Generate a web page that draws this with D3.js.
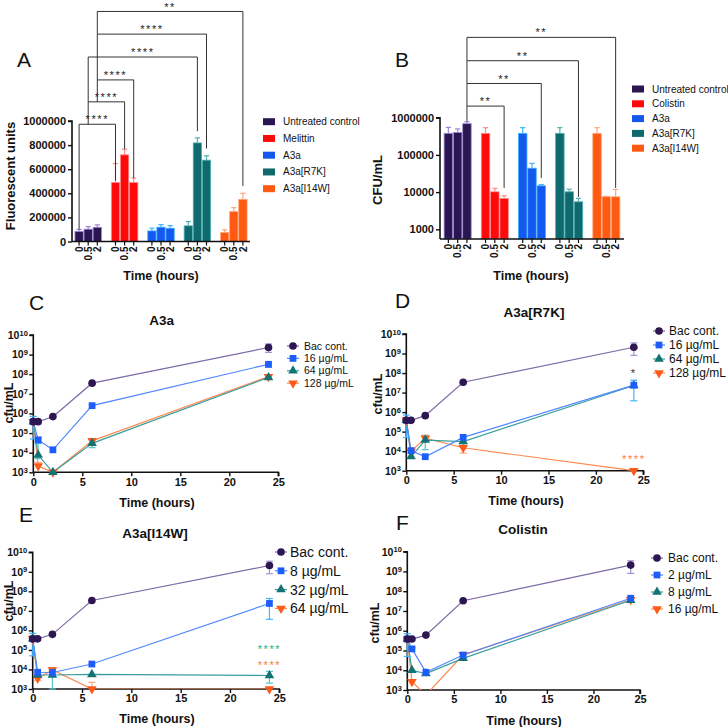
<!DOCTYPE html>
<html><head><meta charset="utf-8">
<script src="https://cdn.jsdelivr.net/npm/d3@7"></script>
<style>
body{margin:0;background:#fff}
svg{display:block}
text{font-family:"Liberation Sans",Arial,sans-serif;fill:#111}
</style>
</head><body>
<svg id="c" width="728" height="727"></svg>
<script>
// ---------------- DATA ----------------
const barTimes = ["0", "0.5", "2"];
const groupsA = ["Untreated control", "Melittin", "A3a", "A3a[R7K]", "A3a[I14W]"];
const groupsB = ["Untreated control", "Colistin", "A3a", "A3a[R7K]", "A3a[I14W]"];
const fluorMeans = [[84000, 102000, 118000], [490000, 719000, 490000], [88000, 119000, 110000], [130000, 818000, 675000], [74000, 248000, 350000]];
const fluorErr   = [[100000, 124000, 138000], [647000, 766000, 526000], [110000, 140000, 132000], [165000, 860000, 711000], [97000, 281000, 400000]];
const cfuMeans = [[380000, 400000, 690000], [380000, 10200, 6800], [380000, 44000, 14800], [380000, 10200, 5500], [380000, 7500, 7500]];
const cfuErr   = [[550000, 500000, 780000], [540000, 12600, 8000], [540000, 59000, 16000], [540000, 12000, 6800], [540000, 7700, 11800]];
const ticksA = [0, 200000, 400000, 600000, 800000, 1000000];
const ticksB = [1000, 10000, 100000, 1000000];

// significance brackets: [group1, time1, group2, time2]
const bracketPairsA = [[0, "0", 1, "0"], [0, "0.5", 1, "0.5"], [0, "2", 1, "2"], [0, "0.5", 3, "0.5"], [0, "2", 3, "2"], [0, "2", 4, "2"]];
const bracketLevelsA = [973000, 1159000, 1341000, 1531000, 1721000, 1909000];
const bracketLeftEndA = [100000, 973000, 1159000, 1159000, 1341000, 1721000];
const bracketRightEndA = [505000, 765000, 526000, 915000, 772000, 460000];
const bracketLabelsA = ["****", "****", "****", "****", "****", "**"];

const bracketPairsB = [[0, "2", 1, "2"], [0, "2", 2, "2"], [0, "2", 3, "2"], [0, "2", 4, "2"]];
const bracketLevelsB = [2.05e6, 8.3e6, 3.4e7, 1.44e8];
const bracketLeftEndB = [8.0e5, 2.05e6, 8.3e6, 3.4e7];
const bracketRightEndB = [1.3e4, 2.4e4, 7.4e3, 1.3e4];
const bracketLabelsB = ["**", "**", "**", "**"];

const times = [0, 0.5, 2, 6, 24];
const xTicksLine = [0, 5, 10, 15, 20, 25];
const yTicksLine = [1e3, 1e4, 1e5, 1e6, 1e7, 1e8, 1e9, 1e10];

// Panel C (A3a)
const namesC = ["Bac cont.", "16 µg/mL", "64 µg/mL", "128 µg/mL"];
const bacC = [3.8e5, 3.8e5, 6.9e5, 3.5e7, 2.3e9];
const c16 = [3.8e5, 4.5e4, 1.4e4, 2.5e6, 3.2e8];
const c64 = [3.8e5, 7.6e3, 1e3, 3e4, 6.8e7];
const c128 = [3.8e5, 2.1e3, 1e3, 4e4, 7.5e7];
const bacCHi = [null, null, null, null, 3.5e9], bacCLo = [null, null, null, null, 1.3e9];
const c16Hi = [7.1e5, 6e4, null, null, 3.8e8], c16Lo = [5e4, 3e4, null, null, 2.3e8];
const c64Hi = [null, 3.5e4, null, 4.5e4, null], c64Lo = [null, 5e3, null, 1.8e4, null];
const c128Hi = [null, 3.2e3, null, 5e4, null], c128Lo = [null, null, null, null, null];

// Panel D (A3a[R7K])
const namesD = ["Bac cont.", "16 µg/mL", "64 µg/mL", "128 µg/mL"];
const bacD = [3.8e5, 3.8e5, 6.6e5, 3.4e7, 2.1e9];
const d16 = [3.8e5, 1.07e4, 5.2e3, 5.1e4, 2.4e7];
const d64 = [3.8e5, 5.3e3, 3.7e4, 3.1e4, 2.3e7];
const d128 = [3.8e5, 1.0e4, 4.6e4, 1.5e4, 1e3];
const bacDHi = [null, null, null, null, 3.5e9], bacDLo = [null, null, null, null, 8e8];
const d16Hi = [7.1e5, null, null, null, 4.3e7], d16Lo = [5e4, null, null, null, 3.8e6];
const d64Hi = [null, null, 6.5e4, null, null], d64Lo = [null, null, 1.2e4, 1.8e4, null];
const d128Hi = [null, null, 6e4, 2e4, null], d128Lo = [null, null, null, 8e3, null];

// Panel E (A3a[I14W])
const namesE = ["Bac cont.", "8 µg/mL", "32 µg/mL", "64 µg/mL"];
const bacE = [3.7e5, 3.7e5, 6.3e5, 3.4e7, 2.1e9];
const e8 = [3.7e5, 7.2e3, 7.0e3, 1.9e4, 2.4e7];
const e32 = [3.7e5, 5.2e3, 5.2e3, 5.6e3, 4.9e3];
const e64 = [3.7e5, 3.5e3, 9.5e3, 1e3, 1e3];
const bacEHi = [null, null, null, null, 3.5e9], bacELo = [null, null, null, null, 8e8];
const e8Hi = [7.1e5, null, 1.2e4, null, 4.3e7], e8Lo = [5e4, null, null, null, 3.7e6];
const e32Hi = [null, null, 1.2e4, null, 8e3], e32Lo = [null, null, 1e3, null, 2e3];
const e64Hi = [null, null, null, 2.2e3, null], e64Lo = [null, 2.8e3, null, null, null];

// Panel F (Colistin)
const namesF = ["Bac cont.", "2 µg/mL", "8 µg/mL", "16 µg/mL"];
const bacF = [3.8e5, 3.8e5, 6.0e5, 3.3e7, 2.1e9];
const f2 = [3.8e5, 1.2e5, 7.9e3, 5.9e4, 4.4e7];
const f8 = [3.8e5, 1.0e4, 6.8e3, 4.0e4, 3.5e7];
const f16 = [3.8e5, 2.6e3, 5.6e2, 6.0e4, 3.7e7];
const bacFHi = [null, null, null, null, 3.5e9], bacFLo = [null, null, null, null, 8e8];
const f2Hi = [7.1e5, 1.4e5, null, null, null], f2Lo = [5e4, null, null, null, null];
const f8Hi = [null, null, null, null, null], f8Lo = [null, null, null, null, null];
const f16Hi = [null, null, null, 7e4, null], f16Lo = [null, null, null, null, null];

// ---------------- STYLE ----------------
const barFill = ["#2a1650", "#ff0a0a", "#1558f0", "#0f6a6e", "#ff5a12"];
const barEdge = ["#9d86d8", "#ff8c8c", "#3cb4ff", "#4fb0b0", "#ffa77a"];
const mkCol = ["#2d1651", "#1e5dfa", "#137373", "#ff5a1a"];
const lnCol = ["#7d6aa6", "#4f87ff", "#3a9e9e", "#ff8a50"];
const erCol = ["#a592d6", "#43b4ff", "#55c4c4", "#ffa57a"];
const mkType = [d3.symbolCircle, d3.symbolSquare, d3.symbolTriangle, d3.symbolTriangle];
const mkRot = [0, 0, 0, 180];
const mkSize = [46, 46, 40, 40];

const svg = d3.select("#c");
const F = '"Liberation Sans",Arial,sans-serif';

function panelLetter(txt, x, y) {
  svg.append("text").attr("x", x).attr("y", y).attr("font-family", '"Open Sans",sans-serif')
    .attr("font-size", 21).text(txt);
}

function starText(g, x, yc, label, size, color) {
  // asterisk glyph centre sits ~0.58em above baseline
  g.append("text").attr("x", x).attr("y", yc + 0.58 * size).attr("text-anchor", "middle")
    .attr("font-size", size).attr("letter-spacing", 1.6).style("fill", color || "#222").text(label);
}

// ---------------- BAR PANELS ----------------
function barPanel(cfg) {
  const g = svg.append("g");
  const x0 = d3.scaleBand().domain(cfg.groups).range(cfg.xRange).paddingInner(0.25).paddingOuter(cfg.outer);
  const x1 = d3.scaleBand().domain(barTimes).range([0, x0.bandwidth()]);
  const y = cfg.y;
  const yBase = cfg.yBase;
  const cx = (gi, t) => x0(cfg.groups[gi]) + x1(t) + x1.bandwidth() / 2;

  cfg.groups.forEach((grp, i) => {
    barTimes.forEach((t, j) => {
      const v = cfg.means[i][j], e = cfg.errs[i][j];
      const xc = cx(i, t);
      g.append("line").attr("x1", xc).attr("x2", xc).attr("y1", y(v)).attr("y2", y(e))
        .attr("stroke", barEdge[i]).attr("stroke-width", 1.2);
      g.append("line").attr("x1", xc - 2.6).attr("x2", xc + 2.6).attr("y1", y(e)).attr("y2", y(e))
        .attr("stroke", barEdge[i]).attr("stroke-width", 1.2);
      g.append("rect").attr("x", x0(grp) + x1(t) + 0.4).attr("y", y(v))
        .attr("width", x1.bandwidth() - 0.8).attr("height", yBase - y(v))
        .attr("fill", barFill[i]).attr("stroke", barEdge[i]).attr("stroke-width", 0.8);
      // x tick + rotated label
      g.append("line").attr("x1", xc).attr("x2", xc).attr("y1", yBase).attr("y2", yBase + 4)
        .attr("stroke", "#111").attr("stroke-width", 1.2);
      g.append("text").attr("transform", `translate(${xc + 3.6},${yBase + 5}) rotate(-90)`)
        .attr("text-anchor", "end").attr("font-size", 10).attr("font-weight", "bold").text(t);
    });
  });

  // y axis
  const ax = g.append("g").attr("transform", `translate(${cfg.xRange[0]},0)`)
    .call(d3.axisLeft(y).tickValues(cfg.ticks).tickFormat(d3.format("d")).tickSize(4).tickPadding(2));
  ax.select(".domain").attr("stroke", "#111").attr("stroke-width", 1.6).attr("d", `M-4,${y(cfg.ticks[cfg.ticks.length - 1])}H0V${yBase}`);
  ax.selectAll(".tick line").attr("stroke", "#111").attr("stroke-width", 1.4);
  ax.selectAll(".tick text").attr("font-size", 11).attr("font-weight", "bold").attr("font-family", F).style("fill", "#111");
  // x axis line
  g.append("line").attr("x1", cfg.xRange[0]).attr("x2", cfg.xRange[1]).attr("y1", yBase).attr("y2", yBase)
    .attr("stroke", "#111").attr("stroke-width", 1.6);

  // brackets
  cfg.pairs.forEach((p, k) => {
    const xa = cx(p[0], p[1]), xb = cx(p[2], p[3]);
    const yl = y(cfg.levels[k]);
    g.append("path").attr("d", `M${xa},${y(cfg.leftEnd[k])}V${yl}H${xb}V${y(cfg.rightEnd[k])}`)
      .attr("fill", "none").attr("stroke", "#333").attr("stroke-width", 1);
    starText(g, (xa + xb) / 2, yl - 7.3, cfg.labels[k], 11);
  });

  // axis titles
  g.append("text").attr("x", cfg.xTitle[0]).attr("y", cfg.xTitle[1]).attr("text-anchor", "middle")
    .attr("font-size", 12.5).attr("font-weight", "bold").text("Time (hours)");
  g.append("text").attr("transform", `translate(${cfg.yTitle[0]},${cfg.yTitle[1]}) rotate(-90)`)
    .attr("text-anchor", "middle").attr("font-size", 13).attr("font-weight", "bold").text(cfg.yLabel);

  // legend
  cfg.groups.forEach((grp, i) => {
    const yy = cfg.legY + i * cfg.legStep;
    g.append("rect").attr("x", cfg.legX).attr("y", yy - 3.5).attr("width", 12).attr("height", 7).attr("fill", barFill[i]);
    g.append("text").attr("x", cfg.legX + 20).attr("y", yy + 3.5).attr("font-size", 10).text(grp);
  });
}

barPanel({
  groups: groupsA, means: fluorMeans, errs: fluorErr, ticks: ticksA,
  xRange: [72, 250], outer: 0.07,
  y: d3.scaleLinear().domain([0, 1000000]).range([241.5, 121]), yBase: 241.5,
  pairs: bracketPairsA, levels: bracketLevelsA, leftEnd: bracketLeftEndA, rightEnd: bracketRightEndA, labels: bracketLabelsA,
  xTitle: [161, 279.5], yTitle: [15, 176], yLabel: "Fluorescent units",
  legX: 263, legY: 121.7, legStep: 16.75
});

barPanel({
  groups: groupsB, means: cfuMeans, errs: cfuErr, ticks: ticksB,
  xRange: [440, 624], outer: 0.1,
  y: d3.scaleLog().domain([550, 1e6]).range([239, 117.7]), yBase: 239,
  pairs: bracketPairsB, levels: bracketLevelsB, leftEnd: bracketLeftEndB, rightEnd: bracketRightEndB, labels: bracketLabelsB,
  xTitle: [531, 279.5], yTitle: [382, 180], yLabel: "CFU/mL",
  legX: 632, legY: 89, legStep: 14.8
});

panelLetter("A", 17, 67);
panelLetter("B", 395, 67);

// ---------------- LINE PANELS ----------------
let clipN = 0;
function linePanel(cfg) {
  const g = svg.append("g");
  const x = d3.scaleLinear().domain([0, 25]).range(cfg.xr);
  const y = d3.scaleLog().domain([1e3, 1e10]).range(cfg.yr);
  const id = "clip" + (clipN++);
  svg.append("clipPath").attr("id", id).append("rect")
    .attr("x", cfg.xr[0] - 6).attr("y", cfg.yr[1] - 30).attr("width", cfg.xr[1] - cfg.xr[0] + 12).attr("height", cfg.yr[0] - cfg.yr[1] + 30);

  // axes
  const ay = g.append("g").attr("transform", `translate(${cfg.xr[0]},0)`)
    .call(d3.axisLeft(y).tickValues(yTicksLine).tickSize(4).tickPadding(1.5).tickFormat(""));
  ay.select(".domain").attr("stroke", "#111").attr("stroke-width", 1.6).attr("d", `M-4,${cfg.yr[1]}H0V${cfg.yr[0]}`);
  ay.selectAll(".tick line").attr("stroke", "#111").attr("stroke-width", 1.4);
  ay.selectAll(".tick text").attr("font-size", 10.5).attr("font-weight", "bold").attr("font-family", F).style("fill", "#111")
    .each(function (d) {
      const t = d3.select(this);
      t.append("tspan").text("10");
      t.append("tspan").attr("dy", "-0.45em").attr("font-size", 7.5).text(Math.round(Math.log10(d)));
    });
  const axx = g.append("g").attr("transform", `translate(0,${cfg.yr[0]})`)
    .call(d3.axisBottom(x).tickValues(xTicksLine).tickSize(4).tickPadding(1.5));
  axx.select(".domain").attr("stroke", "#111").attr("stroke-width", 1.6).attr("d", `M${cfg.xr[0]},0H${cfg.xr[1]}V4`);
  axx.selectAll(".tick line").attr("stroke", "#111").attr("stroke-width", 1.4);
  axx.selectAll(".tick text").attr("font-size", 11).attr("font-weight", "bold").attr("font-family", F).style("fill", "#111");

  const line = d3.line().x((d, i) => x(times[i])).y(d => y(d));
  const gl = g.append("g").attr("clip-path", `url(#${id})`);
  // lines (drawn in reverse so Bac cont. ends up on top)
  for (let s = cfg.series.length - 1; s >= 0; s--) {
    gl.append("path").attr("d", line(cfg.series[s])).attr("fill", "none").attr("stroke", lnCol[s]).attr("stroke-width", 1.2);
  }
  // error bars
  cfg.series.forEach((vals, s) => {
    vals.forEach((v, i) => {
      const hi = cfg.hi[s][i], lo = cfg.lo[s][i];
      const xc = x(times[i]);
      if (hi != null) {
        g.append("line").attr("x1", xc).attr("x2", xc).attr("y1", y(v)).attr("y2", y(hi)).attr("stroke", erCol[s]).attr("stroke-width", 1.2);
        g.append("line").attr("x1", xc - 3.5).attr("x2", xc + 3.5).attr("y1", y(hi)).attr("y2", y(hi)).attr("stroke", erCol[s]).attr("stroke-width", 1.2);
      }
      if (lo != null) {
        g.append("line").attr("x1", xc).attr("x2", xc).attr("y1", y(v)).attr("y2", y(lo)).attr("stroke", erCol[s]).attr("stroke-width", 1.2);
        g.append("line").attr("x1", xc - 3.5).attr("x2", xc + 3.5).attr("y1", y(lo)).attr("y2", y(lo)).attr("stroke", erCol[s]).attr("stroke-width", 1.2);
      }
    });
  });
  // markers
  for (let s = cfg.series.length - 1; s >= 0; s--) {
    cfg.series[s].forEach((v, i) => {
      if (v < 1e3) return;
      g.append("path").attr("d", d3.symbol().type(mkType[s]).size(mkSize[s])())
        .attr("transform", `translate(${x(times[i])},${y(v)}) rotate(${mkRot[s]})`).attr("fill", mkCol[s]);
    });
  }
  // annotations
  (cfg.notes || []).forEach(n => starText(g, x(n[0]), y(n[1]), n[2], 11, n[3]));

  // titles
  g.append("text").attr("x", cfg.title[0]).attr("y", cfg.title[1]).attr("text-anchor", "middle")
    .attr("font-size", 13.5).attr("font-weight", "bold").text(cfg.titleText);
  g.append("text").attr("x", cfg.xTitle[0]).attr("y", cfg.xTitle[1]).attr("text-anchor", "middle")
    .attr("font-size", 12.5).attr("font-weight", "bold").text("Time (hours)");
  g.append("text").attr("transform", `translate(${cfg.yTitle[0]},${cfg.yTitle[1]}) rotate(-90)`)
    .attr("text-anchor", "middle").attr("font-size", 12.5).attr("font-weight", "bold").text("cfu/mL");

  // legend
  cfg.names.forEach((nm, s) => {
    const yy = cfg.leg[1] + s * cfg.leg[2];
    g.append("line").attr("x1", cfg.leg[0] - 6).attr("x2", cfg.leg[0] + 6).attr("y1", yy).attr("y2", yy).attr("stroke", lnCol[s]).attr("stroke-width", 1.2);
    g.append("path").attr("d", d3.symbol().type(mkType[s]).size(mkSize[s])())
      .attr("transform", `translate(${cfg.leg[0]},${yy}) rotate(${mkRot[s]})`).attr("fill", mkCol[s]);
    g.append("text").attr("x", cfg.leg[0] + cfg.leg[3]).attr("y", yy + cfg.leg[4] * 0.35).attr("font-size", cfg.leg[4]).text(nm);
  });
}

linePanel({
  xr: [33.3, 278.3], yr: [472.3, 335], names: namesC,
  series: [bacC, c16, c64, c128], hi: [bacCHi, c16Hi, c64Hi, c128Hi], lo: [bacCLo, c16Lo, c64Lo, c128Lo],
  title: [161.7, 324.5], titleText: "A3a", xTitle: [157, 507], yTitle: [12.5, 403],
  leg: [293, 346, 12.4, 11, 10.5]
});
linePanel({
  xr: [406.3, 643.3], yr: [470.7, 334], names: namesD,
  series: [bacD, d16, d64, d128], hi: [bacDHi, d16Hi, d64Hi, d128Hi], lo: [bacDLo, d16Lo, d64Lo, d128Lo],
  title: [534, 316.5], titleText: "A3a[R7K]", xTitle: [526, 504.5], yTitle: [382, 394],
  leg: [659, 331, 14, 10, 12],
  notes: [[24, 1.3e8, "*", "#333"], [24, 5.2e3, "****", "#ff7a30"]]
});
linePanel({
  xr: [32.7, 279.3], yr: [689, 552.3], names: namesE,
  series: [bacE, e8, e32, e64], hi: [bacEHi, e8Hi, e32Hi, e64Hi], lo: [bacELo, e8Lo, e32Lo, e64Lo],
  title: [155, 537.5], titleText: "A3a[I14W]", xTitle: [157, 722.5], yTitle: [12.5, 601],
  leg: [281, 552, 18.8, 9, 14],
  notes: [[24, 1.4e5, "****", "#21b07a"], [24, 2.3e4, "****", "#ff7a30"]]
});
linePanel({
  xr: [407.3, 640], yr: [690, 551.7], names: namesF,
  series: [bacF, f2, f8, f16], hi: [bacFHi, f2Hi, f8Hi, f16Hi], lo: [bacFLo, f2Lo, f8Lo, f16Lo],
  title: [523, 533.5], titleText: "Colistin", xTitle: [524, 724.5], yTitle: [379, 623],
  leg: [657, 558, 17, 11, 12]
});

panelLetter("C", 29, 310);
panelLetter("D", 395, 308);
panelLetter("E", 19, 522);
panelLetter("F", 396, 530);
</script>
</body></html>
